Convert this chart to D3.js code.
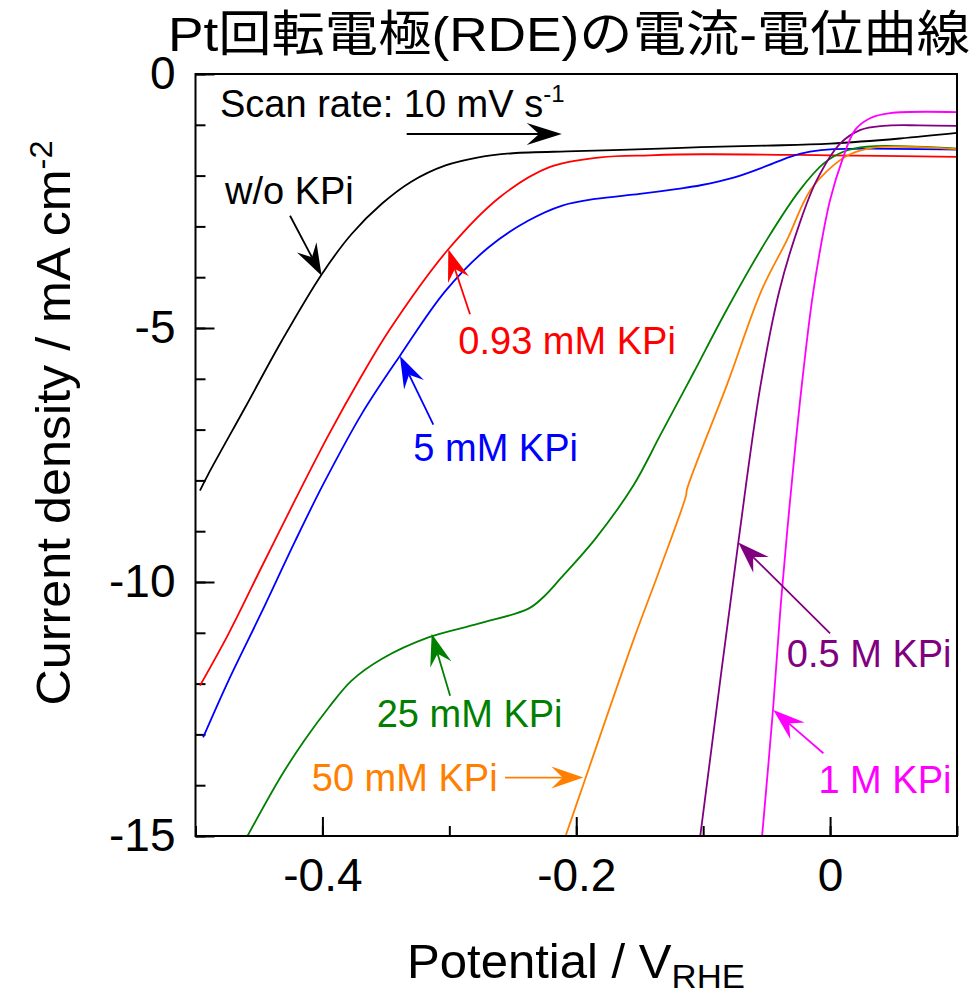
<!DOCTYPE html>
<html>
<head>
<meta charset="utf-8">
<script src="https://cdn.jsdelivr.net/npm/d3@7"></script>
<style>
  body { margin: 0; background: #fff; }
  text { font-family: "Liberation Sans", Arial, "Noto Sans CJK JP", sans-serif; }
</style>
</head>
<body>
<svg id="chart" width="978" height="995"></svg>
<script>
// ---- data (potential in V vs RHE, current density in mA cm-2) ----
var E_none = [-0.4965, -0.490, -0.461, -0.432, -0.4005, -0.377, -0.353, -0.330, -0.303, -0.277, -0.250, -0.200, -0.134, -0.102, -0.050, 0.0, 0.055, 0.1];
var j_none = [-8.2, -7.88, -6.57, -5.25, -3.94, -3.15, -2.55, -2.12, -1.80, -1.64, -1.56, -1.52, -1.47, -1.44, -1.41, -1.37, -1.27, -1.16];

var E_093 = [-0.4965, -0.474, -0.448, -0.4216, -0.395, -0.370, -0.3467, -0.3008, -0.260, -0.2206, -0.181, -0.142, -0.100, 0.0, 0.1];
var j_093 = [-12.04, -11.02, -9.71, -8.39, -7.10, -5.98, -5.02, -3.45, -2.42, -1.83, -1.64, -1.60, -1.58, -1.60, -1.63];

var E_5 = [-0.494, -0.474, -0.448, -0.4216, -0.399, -0.369, -0.339, -0.303, -0.269, -0.238, -0.211, -0.185, -0.150, -0.120, -0.102, -0.076, -0.050, -0.0315, -0.0158, 0.0026, 0.1];
var j_5 = [-13.06, -11.94, -10.6, -9.2, -8.06, -6.69, -5.55, -4.27, -3.41, -2.89, -2.59, -2.46, -2.36, -2.26, -2.19, -2.04, -1.81, -1.63, -1.53, -1.48, -1.49];

var E_25 = [-0.4597, -0.432, -0.4137, -0.395, -0.377, -0.353, -0.3165, -0.277, -0.238, -0.226, -0.212, -0.185, -0.155, -0.134, -0.108, -0.081, -0.050, -0.024, -0.005, 0.0105, 0.029, 0.1];
var j_25 = [-15.03, -13.80, -13.10, -12.47, -11.94, -11.51, -11.09, -10.82, -10.53, -10.30, -9.92, -9.15, -8.10, -7.12, -5.90, -4.62, -3.27, -2.29, -1.76, -1.53, -1.43, -1.47];

var E_50 = [-0.2088, -0.1946, -0.155, -0.134, -0.1135, -0.1128, -0.081, -0.054, -0.034, -0.0158, 0.0026, 0.0158, 0.034, 0.06, 0.1];
var j_50 = [-15.03, -14.0, -11.15, -9.74, -8.30, -8.18, -6.1, -4.26, -3.27, -2.30, -1.80, -1.58, -1.45, -1.43, -1.48];

var E_500 = [-0.1024, -0.0723, -0.055, -0.040, -0.024, -0.0105, 0.0079, 0.024, 0.042, 0.07, 0.1];
var j_500 = [-15.02, -9.22, -6.16, -4.27, -2.94, -2.09, -1.37, -1.10, -1.02, -1.01, -1.02];

var E_1000 = [-0.0536, -0.0449, -0.0386, -0.0315, -0.0236, -0.0142, -0.0079, 0.0, 0.0095, 0.0197, 0.0315, 0.0473, 0.1];
var j_1000 = [-15.01, -12.49, -10.37, -8.39, -6.42, -4.45, -3.47, -2.48, -1.70, -1.10, -0.87, -0.77, -0.75];

var series_names = ["w/o KPi", "0.93 mM KPi", "5 mM KPi", "25 mM KPi", "50 mM KPi", "0.5 M KPi", "1 M KPi"];
var series_colors = ["#000000", "#ff0000", "#0000ff", "#008000", "#ff8000", "#800080", "#ff00ff"];
var series_E = [E_none, E_093, E_5, E_25, E_50, E_500, E_1000];
var series_j = [j_none, j_093, j_5, j_25, j_50, j_500, j_1000];

var x_major_ticks = [-0.4, -0.2, 0];
var x_minor_ticks = [-0.5, -0.4, -0.3, -0.2, -0.1, 0, 0.1];
var y_major_ticks = [0, -5, -10, -15];
var y_minor_ticks = [0, -1, -2, -3, -4, -5, -6, -7, -8, -9, -10, -11, -12, -13, -14, -15];

// label text start (E, j) and arrow tail/tip (E, j)
var label_pos = [[-0.4768, -2.56], [-0.2929, -5.52], [-0.3284, -7.61], [-0.3572, -12.85], [-0.4084, -14.11], [-0.0341, -11.68], [-0.0092, -14.15]];
var arrow_tail = [[-0.4255, -2.79], [-0.2837, -4.73], [-0.3126, -6.90], [-0.2994, -12.24], [-0.2561, -13.85], [0.0, -11.01], [-0.0053, -13.37]];
var arrow_tip = [[-0.4006, -3.97], [-0.3008, -3.45], [-0.3389, -5.55], [-0.3139, -11.02], [-0.1944, -13.85], [-0.0723, -9.22], [-0.0447, -12.52]];

// ---- layout ----
var svg = d3.select("#chart");
var plot = { left: 195.5, right: 957, top: 74, bottom: 836 };

var x = d3.scaleLinear().domain([-0.5, 0.1]).range([plot.left, plot.right]);
var y = d3.scaleLinear().domain([-15, 0]).range([plot.bottom, plot.top]);

svg.append("defs").append("clipPath").attr("id", "clip")
  .append("rect")
  .attr("x", plot.left).attr("y", plot.top)
  .attr("width", plot.right - plot.left).attr("height", plot.bottom - plot.top);

var fmt_tick = function(d){ return d == 0 ? "0" : String(d); };   // plain hyphen minus like the original

/*************************** title ***************************/
svg.append("text")
  .attr("x", 168).attr("y", 51)
  .attr("textLength", 802).attr("lengthAdjust", "spacingAndGlyphs")
  .style("font-size", "49px")
  .style("font-family", "'Liberation Sans', 'Noto Sans CJK JP', sans-serif")
  .text("Pt回転電極(RDE)の電流-電位曲線");

/*************************** axes ***************************/
var gx = svg.append("g").attr("transform", "translate(0," + plot.bottom + ")");
gx.call(d3.axisBottom(x).tickValues(x_minor_ticks).tickSize(-10).tickFormat(""));
gx.append("g").call(d3.axisBottom(x).tickValues(x_major_ticks).tickSize(-19).tickPadding(22).tickFormat(fmt_tick));
gx.selectAll(".domain").remove();
gx.selectAll("line").attr("stroke", "#000").attr("stroke-width", 2);
gx.selectAll("text").style("font-size", "46px").attr("fill", "#000");

var gy = svg.append("g").attr("transform", "translate(" + plot.left + ",0)");
gy.call(d3.axisLeft(y).tickValues(y_minor_ticks).tickSize(-10).tickFormat(""));
gy.append("g").call(d3.axisLeft(y).tickValues(y_major_ticks).tickSize(-19).tickPadding(20).tickFormat(fmt_tick));
gy.selectAll(".domain").remove();
gy.selectAll("line").attr("stroke", "#000").attr("stroke-width", 2);
gy.selectAll("text").style("font-size", "46px").attr("fill", "#000");
svg.selectAll(".tick text").style("font-family", "'Liberation Sans', Arial, sans-serif");

/*************************** curves ***************************/
var line = d3.line().x(function(d){ return x(d[0]); }).y(function(d){ return y(d[1]); }).curve(d3.curveCatmullRom.alpha(0.5));
var curves = svg.append("g").attr("clip-path", "url(#clip)");
for (var i = 0; i < series_names.length; i++) {
  var pts = series_E[i].map(function(e, k){ return [e, series_j[i][k]]; });
  curves.append("path").datum(pts)
    .attr("d", line)
    .attr("fill", "none")
    .attr("stroke", series_colors[i])
    .attr("stroke-width", 1.8);
}

// frame
svg.append("rect")
  .attr("x", plot.left).attr("y", plot.top)
  .attr("width", plot.right - plot.left).attr("height", plot.bottom - plot.top)
  .attr("fill", "none").attr("stroke", "#000").attr("stroke-width", 2);

/*************************** arrows + labels ***************************/
var draw_arrow = function(x1, y1, x2, y2, color, width, head_len, head_w){
  var ang = Math.atan2(y2 - y1, x2 - x1);
  var ux = Math.cos(ang), uy = Math.sin(ang);
  var nx = -uy, ny = ux;
  var notch = head_len * 0.65;
  svg.append("line")
    .attr("x1", x1).attr("y1", y1)
    .attr("x2", x2 - ux*notch).attr("y2", y2 - uy*notch)
    .attr("stroke", color).attr("stroke-width", width);
  var p = [
    [x2, y2],
    [x2 - ux*head_len + nx*head_w, y2 - uy*head_len + ny*head_w],
    [x2 - ux*notch, y2 - uy*notch],
    [x2 - ux*head_len - nx*head_w, y2 - uy*head_len - ny*head_w]
  ];
  svg.append("path").attr("d", "M" + p.map(function(q){ return q.join(","); }).join("L") + "Z").attr("fill", color);
};

for (var i = 0; i < series_names.length; i++) {
  svg.append("text")
    .attr("x", x(label_pos[i][0])).attr("y", y(label_pos[i][1]))
    .style("font-size", "38px")
    .attr("fill", series_colors[i])
    .text(series_names[i]);
  draw_arrow(x(arrow_tail[i][0]), y(arrow_tail[i][1]), x(arrow_tip[i][0]), y(arrow_tip[i][1]), series_colors[i], 1.8, 32, 11);
}

// scan rate note
var scan = svg.append("text")
  .attr("x", x(-0.4807)).attr("y", y(-0.84))
  .style("font-size", "38px");
scan.append("tspan").text("Scan rate: 10 mV s");
scan.append("tspan").attr("dy", -15).style("font-size", "24px").text("-1");
draw_arrow(x(-0.3336), y(-1.18), x(-0.2114), y(-1.18), "#000", 2, 35, 11);

/*************************** axis titles ***************************/
var xt = svg.append("text")
  .attr("x", 576).attr("y", 978)
  .attr("text-anchor", "middle")
  .attr("textLength", 338).attr("lengthAdjust", "spacingAndGlyphs")
  .style("font-size", "48px");
xt.append("tspan").text("Potential / V");
xt.append("tspan").attr("dy", 10).style("font-size", "34px").text("RHE");

var yt = svg.append("text")
  .attr("transform", "translate(70,423) rotate(-90)")
  .attr("text-anchor", "middle")
  .attr("textLength", 565).attr("lengthAdjust", "spacingAndGlyphs")
  .style("font-size", "48px");
yt.append("tspan").text("Current density / mA cm");
yt.append("tspan").attr("dy", -18).style("font-size", "31px").text("-2");
</script>
</body>
</html>
